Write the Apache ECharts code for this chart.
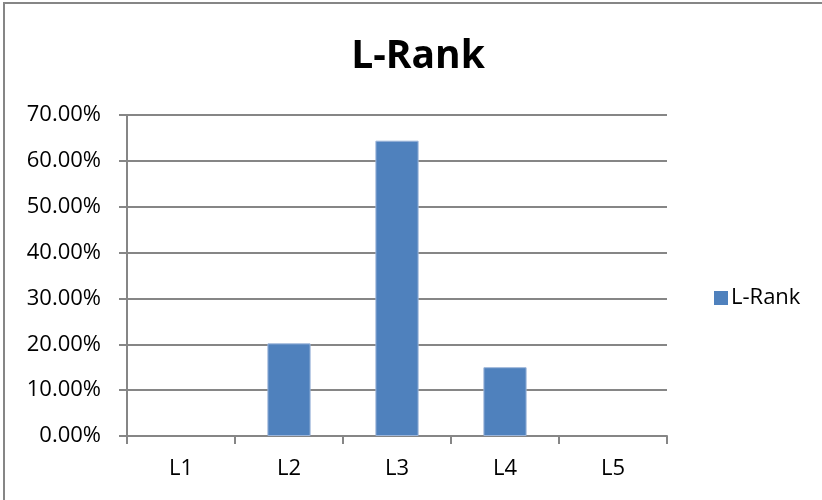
<!DOCTYPE html>
<html><head><meta charset="utf-8">
<script src="https://cdn.jsdelivr.net/npm/echarts@6/dist/echarts.min.js"></script>
<style>html,body{margin:0;padding:0;background:#fff}#c{width:822px;height:500px}</style>
</head><body><div id="c"></div>
<script>
const categories = ['L1','L2','L3','L4','L5'];
const values = [0, 0.202, 0.644, 0.150, 0];
const seriesName = 'L-Rank';
const titleText = 'L-Rank';

const chart = echarts.init(document.getElementById('c'), null, {renderer:'canvas'});
const font = 'Open Sans';
chart.setOption({
  animation:false,
  backgroundColor:'#fff',
  graphic:[{type:'rect',shape:{x:4,y:3,width:830,height:510},style:{fill:'none',stroke:'#868686',lineWidth:2},silent:true}],
  title:{text:titleText,left:413,top:32,textAlign:'center',textStyle:{fontFamily:font,fontWeight:'bold',fontSize:39,color:'#000'}},
  legend:{data:[seriesName],left:709,top:282,orient:'vertical',itemWidth:14,itemHeight:14,itemGap:6,icon:'rect',
    itemStyle:{borderWidth:0},
    textStyle:{fontFamily:font,fontSize:22,color:'#000',padding:[0,0,0,-2]}},
  grid:{left:127,top:115,width:540,height:321,containLabel:false},
  xAxis:{type:'category',data:categories,
    axisLine:{lineStyle:{color:'#868686',width:2}},
    axisTick:{show:true,alignWithLabel:false,length:8,lineStyle:{color:'#868686',width:2}},
    axisLabel:{fontFamily:font,fontSize:22,color:'#000',margin:22}},
  yAxis:{type:'value',min:0,max:0.7,interval:0.1,
    axisLine:{show:true,lineStyle:{color:'#868686',width:2}},
    axisTick:{show:true,length:8,lineStyle:{color:'#868686',width:2}},
    splitLine:{lineStyle:{color:'#868686',width:2}},
    axisLabel:{fontFamily:font,fontSize:22,color:'#000',margin:26,formatter:v=>(v*100).toFixed(2)+'%'}},
  series:[{name:seriesName,type:'bar',barWidth:'40%',
    data:values.map(v=>({value:v,itemStyle:{borderWidth:v===0?0:1}})),
    itemStyle:{color:'#4F81BD',borderColor:'#9BB4D9'}}]
});
</script></body></html>
